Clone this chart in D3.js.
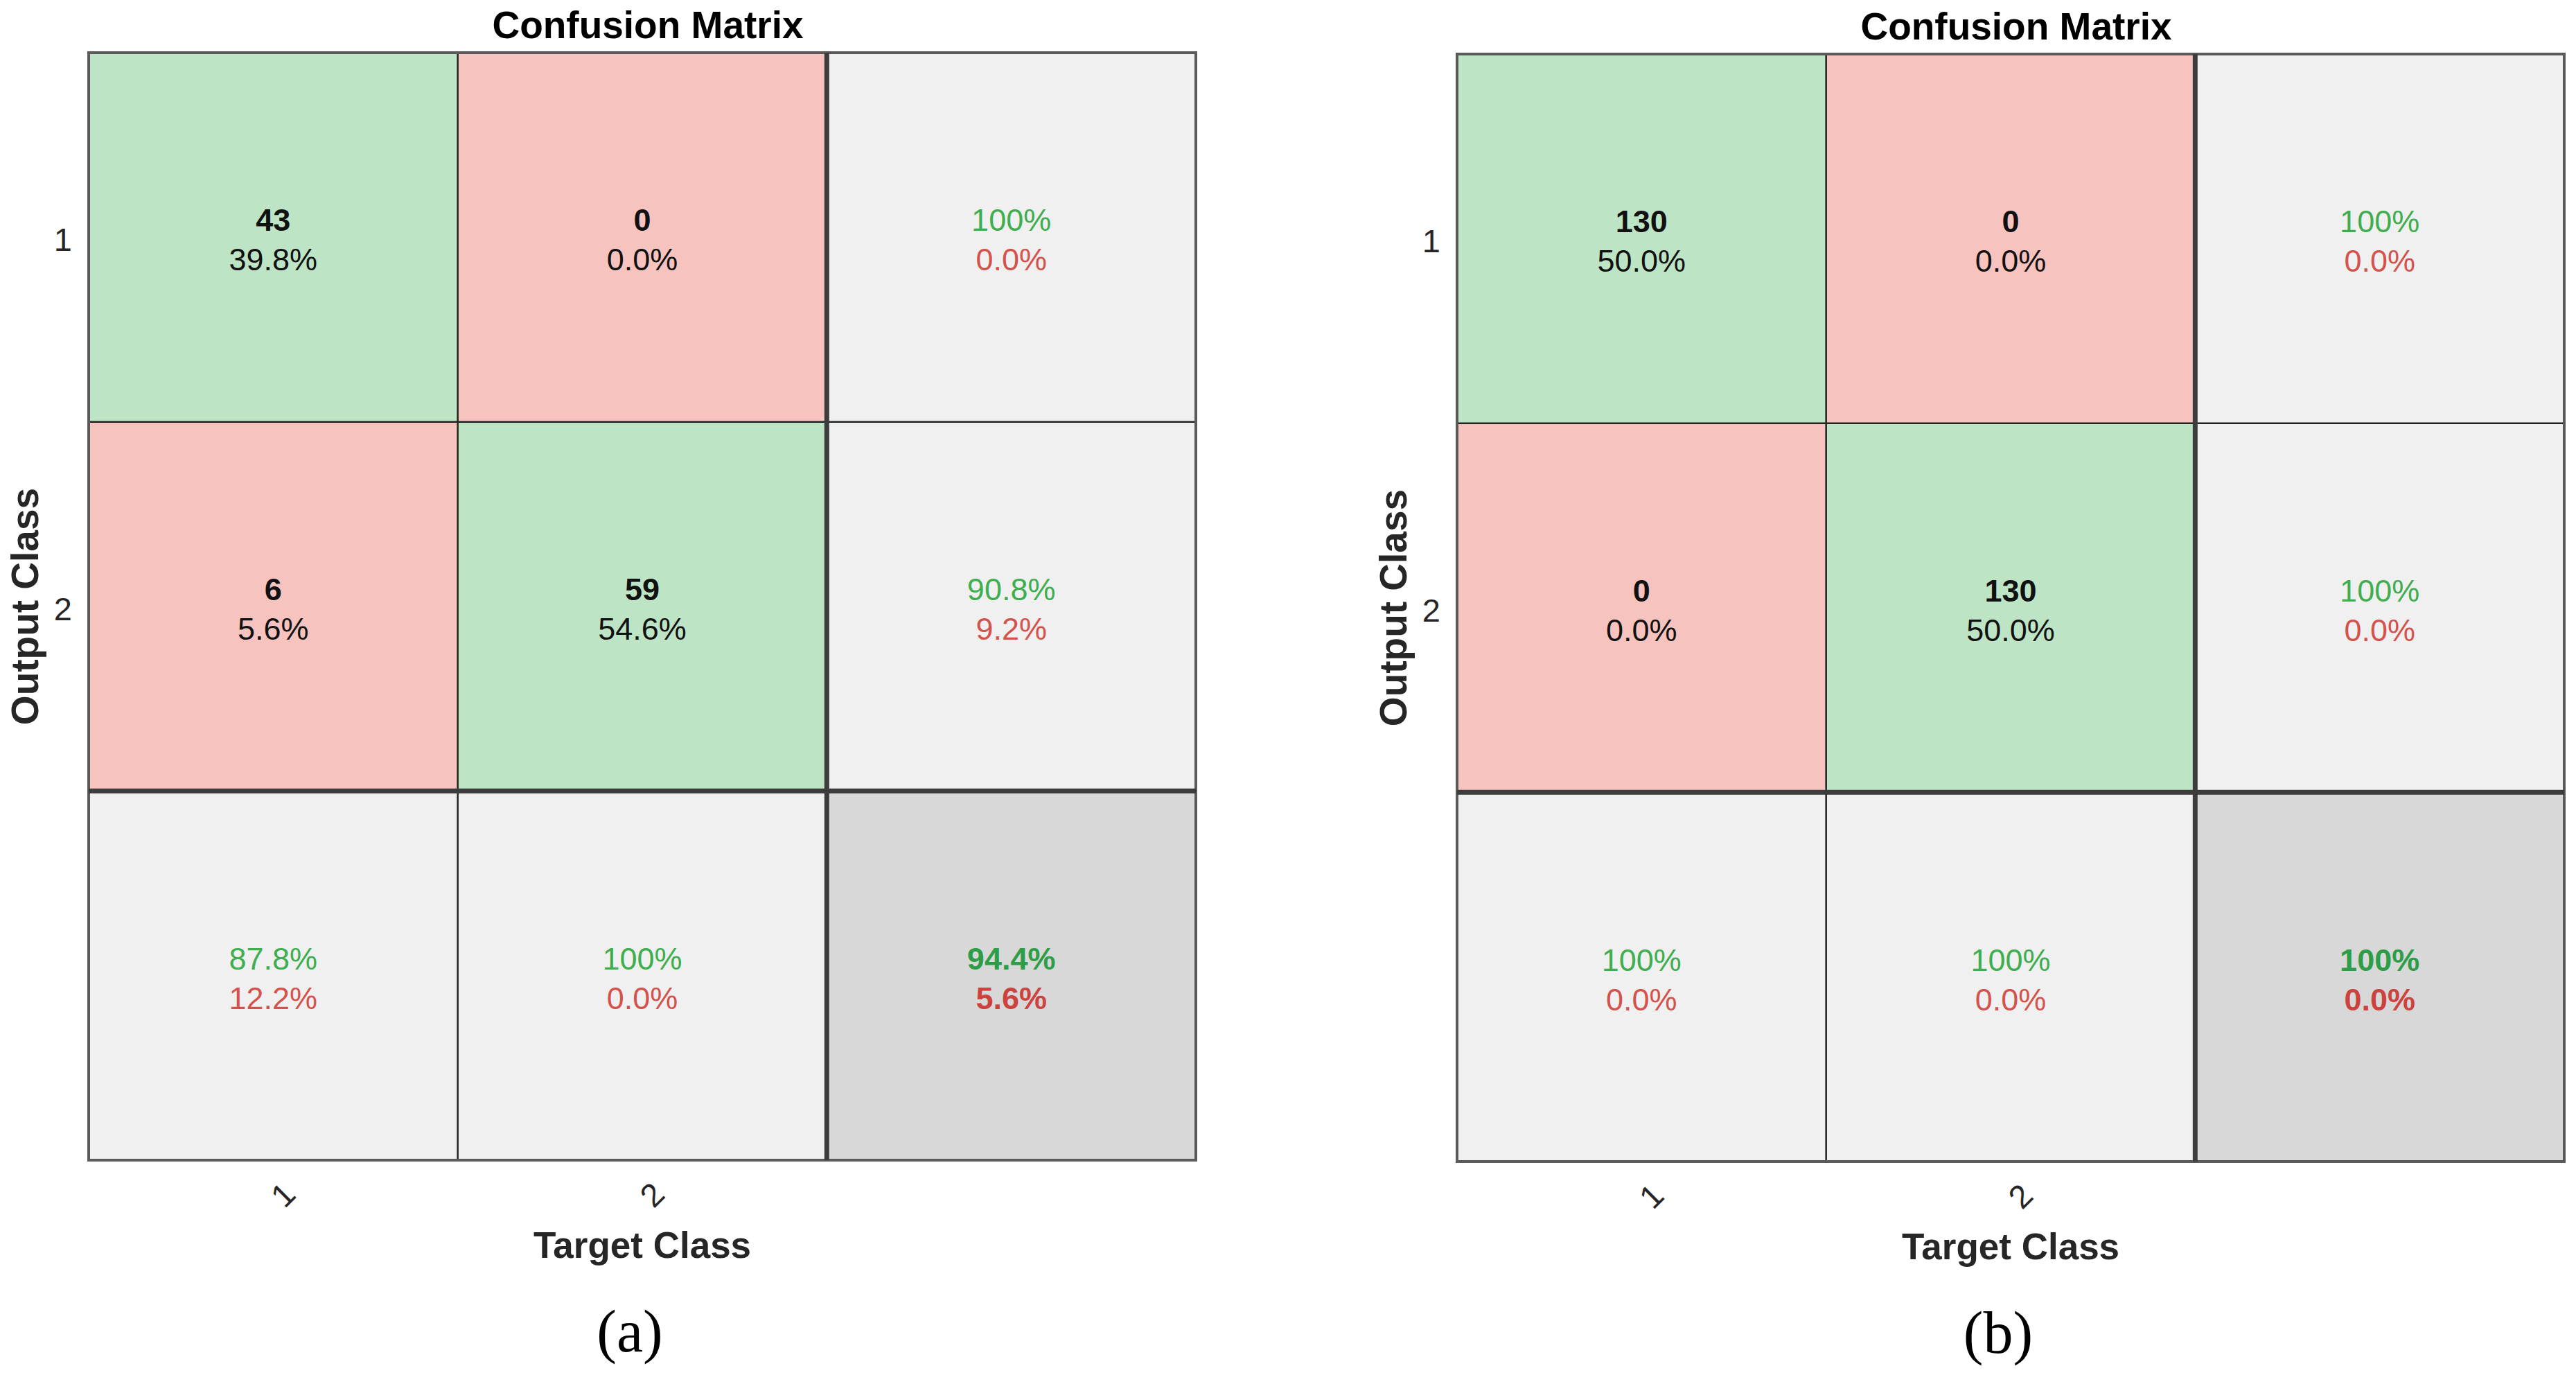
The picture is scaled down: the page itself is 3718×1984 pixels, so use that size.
<!DOCTYPE html>
<html>
<head>
<meta charset="utf-8">
<script src="https://cdn.jsdelivr.net/npm/d3@7"></script>
<style>
	body { margin: 0; background: #ffffff; }
	text { font-family: "Liberation Sans", Arial, sans-serif; }
</style>
</head>
<body>
<div id="chart"></div>
<script>
// classes and summary column/row
var classes = ["1", "2"];
var cellKeys = ["1", "2", "all"];

// panel (a)
var countsA = [[43, 0], [6, 59]];
var pctA = [[39.8, 0.0], [5.6, 54.6]];
var rowOkA = [100, 90.8];      // right column, green
var rowErrA = [0.0, 9.2];      // right column, red
var colOkA = [87.8, 100];      // bottom row, green
var colErrA = [12.2, 0.0];     // bottom row, red
var totalA = [94.4, 5.6];

// panel (b)
var countsB = [[130, 0], [0, 130]];
var pctB = [[50.0, 0.0], [0.0, 50.0]];
var rowOkB = [100, 100];
var rowErrB = [0.0, 0.0];
var colOkB = [100, 100];
var colErrB = [0.0, 0.0];
var totalB = [100, 0.0];

var panelLabels = ["(a)", "(b)"];

var width = 3718, height = 1984;

var svg = d3.select("#chart").append("svg")
	.attr("width", width)
	.attr("height", height);

function fmt(v){
	return v === 100 ? "100%" : v.toFixed(1) + "%";
}

var green = "#bde5c5", pink = "#f7c3bf", light = "#f0f0f0", dark = "#d8d8d8";
var txtGreen = "#3eae4f", txtRed = "#d4524c";

function draw_matrix(x0, y0, size, counts, pct, rowOk, rowErr, colOk, colErr, total, label){

	var g = svg.append("g").attr("transform", "translate(" + x0 + "," + y0 + ")");

	var xScale = d3.scaleBand().domain(cellKeys).range([0, size]);
	var yScale = d3.scaleBand().domain(cellKeys).range([0, size]);
	var bw = xScale.bandwidth();

	//build cells
	var cells = [];
	cellKeys.forEach(function(r, i){
		cellKeys.forEach(function(c, j){
			var cell = {row: r, col: c};
			if (i < 2 && j < 2){
				cell.fill = (i === j) ? green : pink;
				cell.l1 = String(counts[i][j]); cell.c1 = "#111"; cell.w1 = "bold";
				cell.l2 = fmt(pct[i][j]); cell.c2 = "#111"; cell.w2 = "normal";
			} else if (i < 2){
				cell.fill = light;
				cell.l1 = fmt(rowOk[i]); cell.c1 = txtGreen; cell.w1 = "normal";
				cell.l2 = fmt(rowErr[i]); cell.c2 = txtRed; cell.w2 = "normal";
			} else if (j < 2){
				cell.fill = light;
				cell.l1 = fmt(colOk[j]); cell.c1 = txtGreen; cell.w1 = "normal";
				cell.l2 = fmt(colErr[j]); cell.c2 = txtRed; cell.w2 = "normal";
			} else {
				cell.fill = dark;
				cell.l1 = fmt(total[0]); cell.c1 = "#2e9d48"; cell.w1 = "bold";
				cell.l2 = fmt(total[1]); cell.c2 = "#cc433e"; cell.w2 = "bold";
			}
			cells.push(cell);
		});
	});

	g.selectAll("rect.cell").data(cells).enter().append("rect")
		.attr("class", "cell")
		.attr("x", function(d){ return xScale(d.col); })
		.attr("y", function(d){ return yScale(d.row); })
		.attr("width", bw)
		.attr("height", bw)
		.attr("fill", function(d){ return d.fill; });

	//thin grid lines
	g.append("line").attr("x1", xScale("2")).attr("x2", xScale("2"))
		.attr("y1", 0).attr("y2", size).attr("stroke", "#222").attr("stroke-width", 2.5);
	g.append("line").attr("y1", yScale("2")).attr("y2", yScale("2"))
		.attr("x1", 0).attr("x2", size).attr("stroke", "#222").attr("stroke-width", 2.5);

	//outer border
	g.append("rect").attr("x", 0).attr("y", 0).attr("width", size).attr("height", size)
		.attr("fill", "none").attr("stroke", "#5a5a5a").attr("stroke-width", 4);

	//thick lines around summary row / column
	g.append("line").attr("x1", xScale("all")).attr("x2", xScale("all"))
		.attr("y1", 0).attr("y2", size).attr("stroke", "#3c3c3c").attr("stroke-width", 7);
	g.append("line").attr("y1", yScale("all")).attr("y2", yScale("all"))
		.attr("x1", 0).attr("x2", size).attr("stroke", "#3c3c3c").attr("stroke-width", 7);

	//cell texts
	var t = g.selectAll("g.txt").data(cells).enter().append("g")
		.attr("class", "txt")
		.attr("transform", function(d){
			return "translate(" + (xScale(d.col) + bw / 2) + "," + (yScale(d.row) + bw / 2) + ")";
		});
	t.append("text").attr("text-anchor", "middle").attr("y", -9)
		.style("font-size", "45px")
		.style("font-weight", function(d){ return d.w1; })
		.attr("fill", function(d){ return d.c1; })
		.text(function(d){ return d.l1; });
	t.append("text").attr("text-anchor", "middle").attr("y", 48)
		.style("font-size", "45px")
		.style("font-weight", function(d){ return d.w2; })
		.attr("fill", function(d){ return d.c2; })
		.text(function(d){ return d.l2; });

	//y tick labels
	g.selectAll("text.ytick").data(classes).enter().append("text")
		.attr("class", "ytick")
		.attr("text-anchor", "end")
		.attr("x", -24)
		.attr("y", function(d){ return yScale(d) + bw / 2 + 20; })
		.style("font-size", "47px")
		.attr("fill", "#262626")
		.text(function(d){ return d; });

	//x tick labels, rotated
	g.selectAll("text.xtick").data(classes).enter().append("text")
		.attr("class", "xtick")
		.attr("text-anchor", "middle")
		.attr("dy", "0.35em")
		.attr("transform", function(d){
			return "translate(" + (xScale(d) + bw / 2 + 14) + "," + (size + 50) + ") rotate(-45)";
		})
		.style("font-size", "47px")
		.attr("fill", "#262626")
		.text(function(d){ return d; });

	//title
	g.append("text")
		.attr("text-anchor", "middle")
		.attr("x", size / 2 + 8)
		.attr("y", -21)
		.style("font-size", "55px")
		.style("font-weight", "bold")
		.attr("fill", "#000")
		.text("Confusion Matrix");

	//axis labels
	g.append("text")
		.attr("text-anchor", "middle")
		.attr("x", size / 2)
		.attr("y", 1815 - 76)
		.style("font-size", "53px")
		.style("font-weight", "bold")
		.attr("fill", "#262626")
		.text("Target Class");

	g.append("text")
		.attr("text-anchor", "middle")
		.attr("transform", "translate(" + (55 - 128) + "," + (size / 2) + ") rotate(-90)")
		.style("font-size", "55px")
		.style("font-weight", "bold")
		.attr("fill", "#262626")
		.text("Output Class");

	//panel label
	g.append("text")
		.attr("text-anchor", "middle")
		.attr("x", size / 2 - 18)
		.attr("y", 1950 - 76)
		.style("font-family", "'Liberation Serif', 'Times New Roman', serif")
		.style("font-size", "86px")
		.attr("fill", "#000")
		.text(label);
}

draw_matrix(128, 76, 1598, countsA, pctA, rowOkA, rowErrA, colOkA, colErrA, totalA, panelLabels[0]);
draw_matrix(2103, 78, 1598, countsB, pctB, rowOkB, rowErrB, colOkB, colErrB, totalB, panelLabels[1]);
</script>
</body>
</html>
